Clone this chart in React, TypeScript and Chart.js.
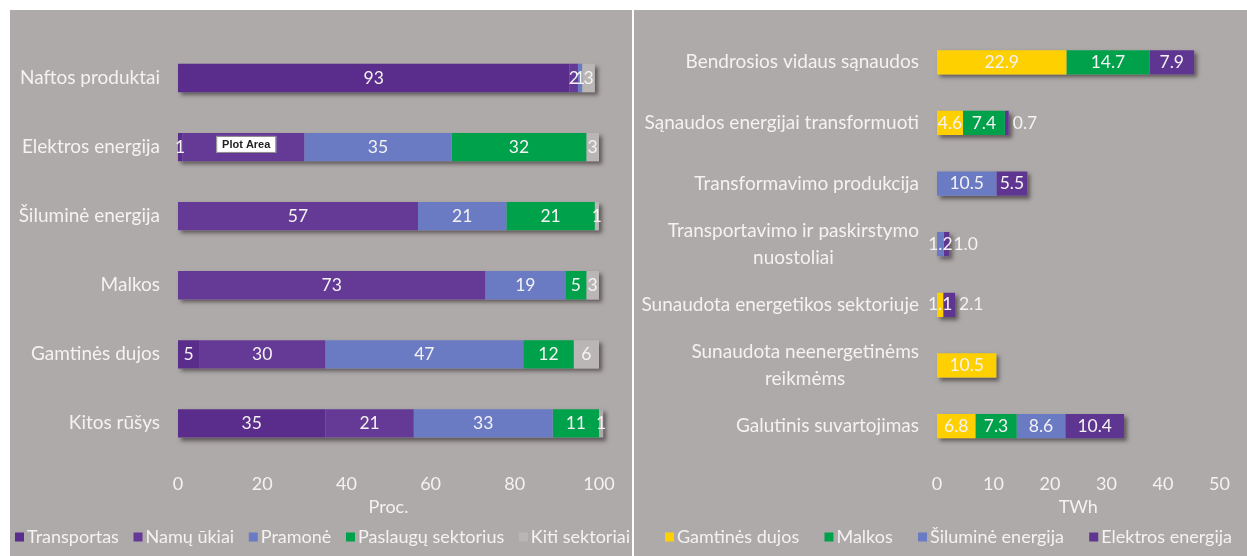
import React, { useEffect, useRef } from "react";
import { Chart, registerables } from "chart.js";
Chart.register(...registerables);

const FONT = "Lato, 'Open Sans', sans-serif";
const BG = "#adaaa9";
const TEXT = "#f4f2f2";

// ---- Left chart data (Proc.) ----
const leftCategories: (string | string[])[] = [
  "Naftos produktai",
  "Elektros energija",
  "Šiluminė energija",
  "Malkos",
  "Gamtinės dujos",
  "Kitos rūšys",
];
const leftSeriesNames = ["Transportas", "Namų ūkiai", "Pramonė", "Paslaugų sektorius", "Kiti sektoriai"];
const transportas = [93, 1, 0, 0, 5, 35];
const namuUkiai = [2, 29, 57, 73, 30, 21];
const pramone = [1, 35, 21, 19, 47, 33];
const paslaugos = [0, 32, 21, 5, 12, 11];
const kitiSektoriai = [3, 3, 1, 3, 6, 1];
const leftColors = ["#5a2d8c", "#643a96", "#6a7bc4", "#00a14b", "#bab6b6"];
const leftTicks = [0, 20, 40, 60, 80, 100];
const leftAxisTitle = "Proc.";

// ---- Right chart data (TWh) ----
const rightCategories: (string | string[])[] = [
  "Bendrosios vidaus sąnaudos",
  "Sąnaudos energijai transformuoti",
  "Transformavimo produkcija",
  ["Transportavimo ir paskirstymo", "nuostoliai"],
  "Sunaudota energetikos sektoriuje",
  ["Sunaudota neenergetinėms", "reikmėms"],
  "Galutinis suvartojimas",
];
const rightSeriesNames = ["Gamtinės dujos", "Malkos", "Šiluminė energija", "Elektros energija"];
const gamtinesDujos = [22.9, 4.6, 0, 0, 1.1, 10.5, 6.8];
const malkos = [14.7, 7.4, 0, 0, 0, 0, 7.3];
const silumineEnergija = [0, 0, 10.5, 1.2, 0, 0, 8.6];
const elektrosEnergija = [7.9, 0.7, 5.5, 1.0, 2.1, 0, 10.4];
const rightColors = ["#ffd000", "#00a14b", "#6a7bc4", "#5f3592"];
const rightTicks = [0, 10, 20, 30, 40, 50];
const rightAxisTitle = "TWh";

const shadowPlugin = {
  id: "rowShadow",
  beforeDatasetsDraw(chart: any) {
    const ctx = chart.ctx;
    const n = chart.data.labels.length;
    ctx.save();
    ctx.shadowColor = "rgba(45,35,35,0.6)";
    ctx.shadowBlur = 4;
    ctx.shadowOffsetX = 3;
    ctx.shadowOffsetY = 3;
    ctx.fillStyle = BG;
    for (let i = 0; i < n; i++) {
      let minX = Infinity, maxX = -Infinity, y = 0, h = 0;
      chart.data.datasets.forEach((ds: any, di: number) => {
        const v = ds.data[i];
        if (!(v > 0)) return;
        const el: any = chart.getDatasetMeta(di).data[i];
        if (!el) return;
        const p = el.getProps(["x", "y", "base", "height"], true);
        minX = Math.min(minX, p.x, p.base);
        maxX = Math.max(maxX, p.x, p.base);
        y = p.y;
        h = p.height;
      });
      if (maxX > minX) ctx.fillRect(minX, y - h / 2, maxX - minX, h);
    }
    ctx.restore();
  },
};

const labelPlugin = {
  id: "barLabels",
  afterDatasetsDraw(chart: any, _a: any, opts: any) {
    const ctx = chart.ctx;
    ctx.save();
    ctx.font = `${opts.size}px ${FONT}`;
    ctx.fillStyle = TEXT;
    ctx.textBaseline = "middle";
    const dsList = chart.data.datasets;
    const n = chart.data.labels.length;
    for (let i = 0; i < n; i++) {
      let lastDi = -1;
      dsList.forEach((ds: any, di: number) => { if (ds.data[i] > 0) lastDi = di; });
      dsList.forEach((ds: any, di: number) => {
        const v = ds.data[i];
        if (!(v > 0)) return;
        const el: any = chart.getDatasetMeta(di).data[i];
        const p = el.getProps(["x", "y", "base"], true);
        const txt = v.toFixed(opts.decimals);
        const w = ctx.measureText(txt).width;
        const segW = Math.abs(p.x - p.base);
        if (opts.outside && di === lastDi && segW < w + 4) {
          ctx.textAlign = "left";
          ctx.fillText(txt, Math.max(p.x, p.base) + 4, p.y);
        } else {
          ctx.textAlign = "center";
          ctx.fillText(txt, (p.x + p.base) / 2, p.y);
        }
      });
    }
    ctx.restore();
  },
};

const catLabelPlugin = {
  id: "catLabels",
  afterDraw(chart: any, _a: any, opts: any) {
    const ctx = chart.ctx;
    const yScale = chart.scales.y;
    ctx.save();
    ctx.font = `${opts.size}px ${FONT}`;
    ctx.fillStyle = TEXT;
    ctx.textBaseline = "middle";
    ctx.textAlign = "center";
    const right = chart.chartArea.left - opts.gap;
    chart.data.labels.forEach((lab: any, i: number) => {
      const lines: string[] = Array.isArray(lab) ? lab : [lab];
      const bw = Math.max(...lines.map((l) => ctx.measureText(l).width));
      const cy = yScale.getPixelForValue(i);
      lines.forEach((l, k) => {
        ctx.fillText(l, right - bw / 2, cy + (k - (lines.length - 1) / 2) * opts.lineHeight);
      });
    });
    ctx.restore();
  },
};

const axisTitlePlugin = {
  id: "axisTitle",
  afterDraw(chart: any, _a: any, opts: any) {
    const ctx = chart.ctx;
    const area = chart.chartArea;
    ctx.save();
    ctx.font = `${opts.size}px ${FONT}`;
    ctx.fillStyle = TEXT;
    ctx.textAlign = "center";
    ctx.textBaseline = "middle";
    ctx.fillText(opts.text, (area.left + area.right) / 2, opts.y);
    ctx.restore();
  },
};

const flatLegend = {
  id: "flatLegend",
  afterDraw(chart: any, _a: any, opts: any) {
    const ctx = chart.ctx;
    ctx.save();
    ctx.font = `${opts.size}px ${FONT}`;
    ctx.textBaseline = "middle";
    ctx.textAlign = "left";
    const items = chart.data.datasets.map((ds: any) => ({ text: ds.label, color: ds.backgroundColor }));
    const widths = items.map((it: any) => opts.box + opts.boxGap + ctx.measureText(it.text).width);
    const total = widths.reduce((a: number, b: number) => a + b, 0);
    const gap = (opts.endX - opts.startX - total) / (items.length - 1);
    let x = opts.startX;
    items.forEach((it: any, i: number) => {
      ctx.fillStyle = it.color;
      ctx.fillRect(x, opts.y - opts.box / 2, opts.box, opts.box);
      ctx.fillStyle = TEXT;
      ctx.fillText(it.text, x + opts.box + opts.boxGap, opts.y);
      x += widths[i] + gap;
    });
    ctx.restore();
  },
};

const plotAreaHint = {
  id: "plotAreaHint",
  afterDraw(chart: any, _a: any, opts: any) {
    if (!opts || !opts.show) return;
    const el: any = chart.getDatasetMeta(1).data[1];
    if (!el) return;
    const p = el.getProps(["x", "y", "base", "height"], true);
    const bx = Math.min(p.x, p.base) + 34;
    const by = p.y - p.height / 2 + 3;
    const ctx = chart.ctx;
    ctx.save();
    ctx.fillStyle = "#ffffff";
    ctx.strokeStyle = "#8a8a8a";
    ctx.lineWidth = 1;
    ctx.fillRect(bx, by, 60, 17);
    ctx.strokeRect(bx + 0.5, by + 0.5, 59, 16);
    ctx.fillStyle = "#222222";
    ctx.font = "bold 11px 'Liberation Sans', Arial, sans-serif";
    ctx.textAlign = "center";
    ctx.textBaseline = "middle";
    ctx.fillText("Plot Area", bx + 30, by + 9);
    ctx.restore();
  },
};

type Cfg = {
  width: number;
  height: number;
  categories: (string | string[])[];
  names: string[];
  series: number[][];
  colors: string[];
  ticks: number[];
  title: string;
  decimals: number;
  outside: boolean;
  padding: { left: number; right: number; top: number; bottom: number };
  tickPad: number;
  barPct: number;
  hint: boolean;
  legendStart: number;
  legendEnd: number;
};

function BarPanel({ cfg }: { cfg: Cfg }) {
  const ref = useRef<HTMLCanvasElement>(null);
  useEffect(() => {
    if (!ref.current) return;
    const chart = new Chart(ref.current, {
      type: "bar",
      data: {
        labels: cfg.categories as any,
        datasets: cfg.series.map((d, i) => ({
          label: cfg.names[i],
          data: d,
          backgroundColor: cfg.colors[i],
          borderWidth: 0,
          barPercentage: cfg.barPct,
          categoryPercentage: 1,
        })),
      },
      options: {
        indexAxis: "y",
        responsive: false,
        animation: false,
        devicePixelRatio: 1,
        layout: { padding: cfg.padding },
        scales: {
          x: {
            stacked: true,
            min: cfg.ticks[0],
            max: cfg.ticks[cfg.ticks.length - 1],
            grid: { display: false, drawTicks: false },
            border: { display: false },
            ticks: {
              stepSize: cfg.ticks[1] - cfg.ticks[0],
              color: TEXT,
              font: { family: FONT, size: 18 },
              padding: cfg.tickPad,
            },
            title: { display: false },
          },
          y: {
            stacked: true,
            grid: { display: false, drawTicks: false },
            border: { display: false },
            ticks: { display: false },
          },
        },
        plugins: {
          legend: { display: false },
          tooltip: { enabled: false },
          barLabels: { size: 17.5, decimals: cfg.decimals, outside: cfg.outside },
          catLabels: { size: 19, gap: 18, lineHeight: 27 },
          axisTitle: { text: cfg.title, size: 18, y: 497 },
          flatLegend: { size: 18, box: 9, boxGap: 3, startX: cfg.legendStart, endX: cfg.legendEnd, y: 527 },
          plotAreaHint: { show: cfg.hint },
        } as any,
      },
      plugins: [shadowPlugin, labelPlugin, catLabelPlugin, axisTitlePlugin, flatLegend, plotAreaHint],
    });
    return () => chart.destroy();
  }, []);
  return <canvas ref={ref} width={cfg.width} height={cfg.height} style={{ display: "block" }} />;
}

const leftCfg: Cfg = {
  width: 622,
  height: 546,
  categories: leftCategories,
  names: leftSeriesNames,
  series: [transportas, namuUkiai, pramone, paslaugos, kitiSektoriai],
  colors: leftColors,
  ticks: leftTicks,
  title: leftAxisTitle,
  decimals: 0,
  outside: false,
  padding: { left: 168, right: 33, top: 33.5, bottom: 46.5 },
  tickPad: 15,
  barPct: 0.41,
  hint: true,
  legendStart: 5,
  legendEnd: 620,
};

const rightCfg: Cfg = {
  width: 613,
  height: 546,
  categories: rightCategories,
  names: rightSeriesNames,
  series: [gamtinesDujos, malkos, silumineEnergija, elektrosEnergija],
  colors: rightColors,
  ticks: rightTicks,
  title: rightAxisTitle,
  decimals: 1,
  outside: true,
  padding: { left: 303, right: 21, top: 22, bottom: 44 },
  tickPad: 17,
  barPct: 0.4,
  hint: false,
  legendStart: 31,
  legendEnd: 598,
};

export default function App() {
  return (
    <div style={{ position: "absolute", left: 0, top: 0, width: 1247, height: 556, background: "#ffffff", overflow: "hidden" }}>
      <div style={{ position: "absolute", left: 10, top: 10, width: 622, height: 546, background: BG }}>
        <BarPanel cfg={leftCfg} />
      </div>
      <div style={{ position: "absolute", left: 634, top: 10, width: 613, height: 546, background: BG }}>
        <BarPanel cfg={rightCfg} />
      </div>
    </div>
  );
}
